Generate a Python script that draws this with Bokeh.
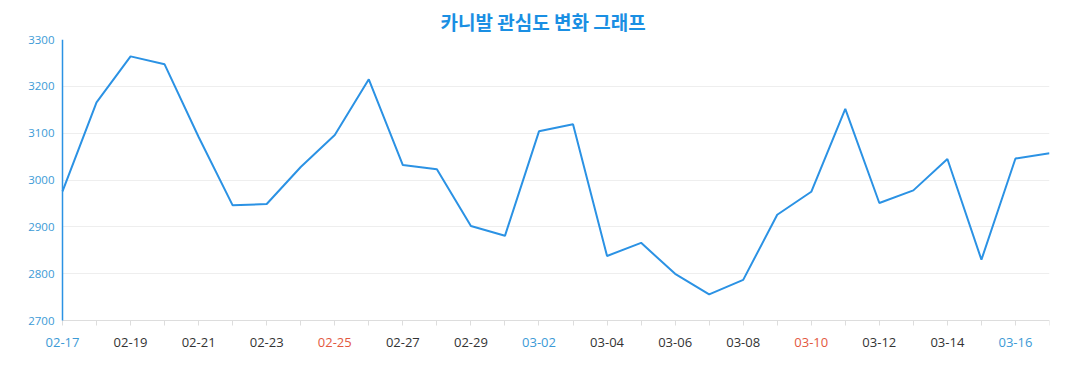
from bokeh.plotting import figure
from bokeh.models import Range1d, FixedTicker, Title, LinearAxis
from bokeh.core.properties import value
from bokeh.embed import file_html
from bokeh.resources import INLINE

dates = ["02-17", "02-18", "02-19", "02-20", "02-21", "02-22", "02-23", "02-24", "02-25", "02-26",
         "02-27", "02-28", "02-29", "03-01", "03-02", "03-03", "03-04", "03-05", "03-06", "03-07",
         "03-08", "03-09", "03-10", "03-11", "03-12", "03-13", "03-14", "03-15", "03-16", "03-17"]
values = [2976, 3166, 3264, 3247, 3092, 2946, 2949, 3028, 3096, 3215,
          3032, 3023, 2902, 2881, 3104, 3119, 2838, 2866, 2800, 2756,
          2787, 2926, 2975, 3152, 2951, 2978, 3045, 2830, 3046, 3057]
# 2024-02-17 is a Saturday
kind_cycle = ["sat", "sun", "", "", "", "", ""]
y_ticks = [2700, 2800, 2900, 3000, 3100, 3200, 3300]

LINE = "#2b92e4"
TITLE_C = "#1a8fe3"
YLAB = "#3c9ad6"
kind_color = {"sat": "#3c9ad6", "sun": "#e3583e", "": "#333333"}

idx = list(range(len(dates)))
day_kind = [kind_cycle[i % 7] for i in idx]
X0, X1 = idx[0], idx[-1]
Y0, Y1 = y_ticks[0], y_ticks[-1]

# frame is padded (left and bottom) so the date labels can be drawn inside it
yscale = 282 / (Y1 - Y0)
xscale = 987 / (X1 - X0)
y_start = Y0 - 46 / yscale
x_start = X0 - 22 / xscale

p = figure(width=1069, height=390, output_backend="svg", toolbar_location=None,
           x_range=Range1d(x_start, X1), y_range=Range1d(y_start, Y1),
           min_border_left=40, min_border_right=20, min_border_top=30, min_border_bottom=24)
p.title = Title(text="카니발 관심도 변화 그래프", align="left", offset=400,
                text_font="Noto Sans CJK KR", text_font_size="19px",
                text_font_style="bold", text_color=TITLE_C)
p.outline_line_color = None
p.background_fill_color = "white"

p.xgrid.grid_line_color = None
p.ygrid.grid_line_color = "#eeeeee"
p.ygrid.ticker = FixedTicker(ticks=y_ticks)
p.ygrid.cross_bounds = (X0, X1)

p.line(idx, values, line_color=LINE, line_width=2)

# y tick labels (normal left axis, labels shifted right toward the data axis)
p.yaxis.ticker = FixedTicker(ticks=y_ticks)
p.yaxis.bounds = (Y0, Y1)
p.yaxis.axis_line_color = None
p.yaxis.major_tick_line_color = None
p.yaxis.minor_tick_line_color = None
p.yaxis.major_label_text_color = YLAB
p.yaxis.major_label_text_font = "Open Sans"
p.yaxis.major_label_text_font_size = "11.5px"
p.yaxis.major_label_standoff = -20

# blue y axis line at the first date
yline = LinearAxis(fixed_location=X0, bounds=(Y0, Y1), ticker=FixedTicker(ticks=y_ticks),
                   axis_line_color=LINE, axis_line_width=1.5,
                   major_tick_line_color=None, minor_tick_line_color=None,
                   major_label_text_color=None, major_label_text_font_size="1px",
                   major_label_standoff=0)
p.add_layout(yline, "left")

p.xaxis.fixed_location = Y0
p.xaxis.bounds = (X0, X1)
p.xaxis.ticker = FixedTicker(ticks=idx)
p.xaxis.axis_line_color = "#dddddd"
p.xaxis.major_tick_line_color = "#dddddd"
p.xaxis.major_tick_in = 0
p.xaxis.major_tick_out = 5
p.xaxis.minor_tick_line_color = None
p.xaxis.major_label_text_color = None
p.xaxis.major_label_text_font_size = "1px"
p.xaxis.major_label_standoff = 0

lab_idx = idx[0::2]
p.text(x=lab_idx, y=[Y0] * len(lab_idx), text=[dates[i] for i in lab_idx],
       text_color=[kind_color[day_kind[i]] for i in lab_idx],
       text_font=value("Open Sans"), text_font_size="13px",
       text_align="center", text_baseline="middle", y_offset=22)

open("out.html", "w").write(file_html(p, INLINE))
